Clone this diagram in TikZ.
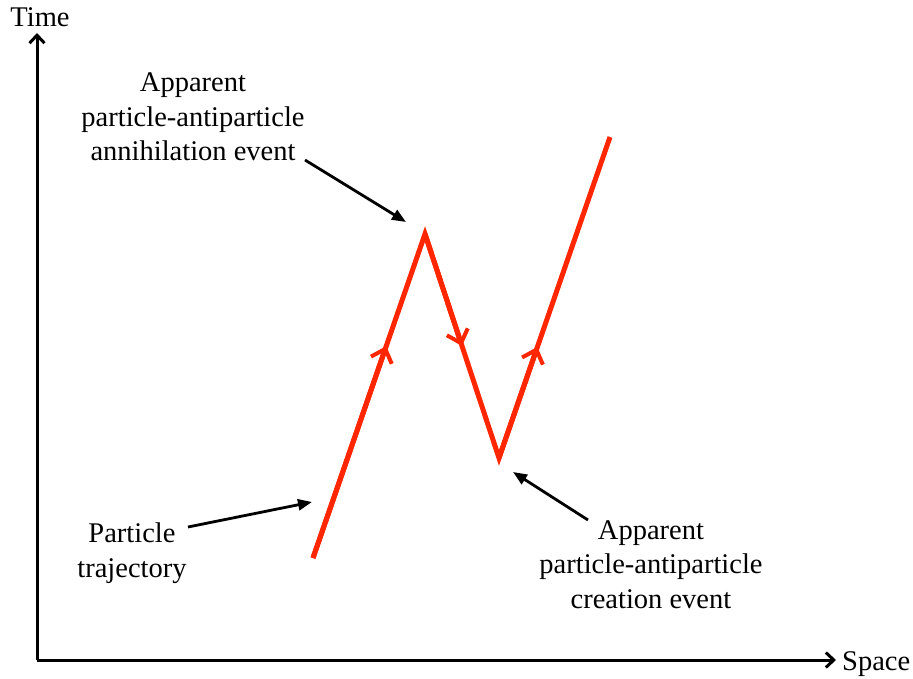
\documentclass[tikz,border=0pt]{standalone}
\usepackage{fontspec}
\setmainfont{Liberation Serif}
\usetikzlibrary{arrows.meta,calc}
\definecolor{trajred}{RGB}{255,38,0}
\begin{document}
\begin{tikzpicture}[x=1pt,y=-1pt,
  axis/.style={line width=3pt,-{Straight Barb[length=8pt,width=15pt,line width=3pt]}},
  pointer/.style={line width=2.8pt,-{Triangle[length=14pt,width=11pt]}},
  traj/.style={line width=5pt,trajred},
  trajtip/.style={traj,-{Straight Barb[length=12pt,width=22pt,line width=4pt]}},
  lbl/.style={font=\fontsize{28.5}{34.5}\selectfont,align=center,inner sep=0pt}]
\useasboundingbox (0,0) rectangle (913,679);
% axes
\coordinate (O) at (37,660);
\coordinate (Ty) at (37,33);
\coordinate (Sx) at (836,660);
\draw[axis] (O) -- (Ty);
\draw[axis] (O) -- (Sx);
\node[lbl,anchor=base] (time) at (40,27) {Time};
\node[lbl,anchor=base west] (space) at (842,670) {Space};
% trajectory
\coordinate (p0) at (313,558);
\coordinate (p1) at (425,234);
\coordinate (p2) at (499,458);
\coordinate (p3) at (610,137);
\coordinate (m1) at ($(p0)!0.654!(p1)$);
\coordinate (m2) at ($(p1)!0.5!(p2)$);
\coordinate (m3) at ($(p2)!0.346!(p3)$);
\draw[traj,line join=miter] (p0) -- (p1) -- (p2) -- (p3);
\draw[trajtip] (p0) -- (m1);
\draw[trajtip] (p1) -- (m2);
\draw[trajtip] (p2) -- (m3);
% labels
\node[lbl,anchor=base] (ann) at (193,161) {Apparent\\particle-antiparticle\\annihilation event};
\node[lbl,anchor=base] (part) at (132,577) {Particle\\trajectory};
\node[lbl,anchor=base] (cre) at (651,608) {Apparent\\particle-antiparticle\\creation event};
\coordinate (a0) at (305,160);
\coordinate (a1) at (406,222);
\coordinate (b0) at (188,527);
\coordinate (b1) at (312,502);
\coordinate (c0) at (588,520);
\coordinate (c1) at (513,472);
\draw[pointer] (a0) -- (a1);
\draw[pointer] (b0) -- (b1);
\draw[pointer] (c0) -- (c1);
\end{tikzpicture}
\end{document}
